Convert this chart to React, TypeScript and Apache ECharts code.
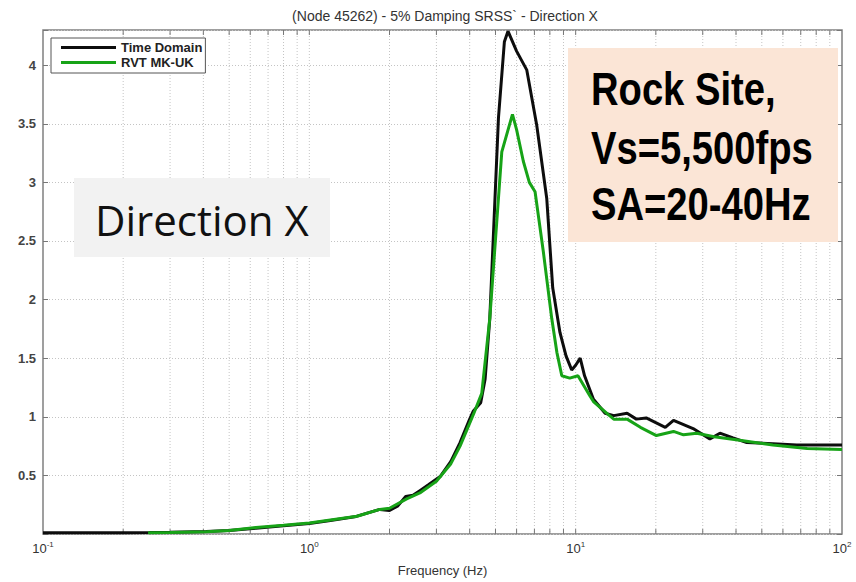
import React, { useEffect, useRef } from 'react';
import * as echarts from 'echarts';

const titleText = '(Node 45262) - 5% Damping SRSS` - Direction X';
const xAxisName = 'Frequency (Hz)';
const seriesNames = ['Time Domain', 'RVT MK-UK'];

// Time Domain (black)
const timeFreq = [0.1, 0.15, 0.2, 0.25, 0.3, 0.41, 0.5, 0.63, 0.8, 1.0, 1.2, 1.5, 1.84, 2.0, 2.15, 2.3, 2.45, 2.6, 2.8, 3.1, 3.4, 3.68, 4.0, 4.13, 4.4, 4.57, 4.76, 5.13, 5.4, 5.57, 6.0, 6.55, 7.14, 7.79, 8.2, 8.73, 9.2, 9.66, 10.0, 10.4, 10.8, 11.66, 12.9, 13.9, 15.6, 16.9, 18.4, 21.7, 23.3, 27.6, 31.9, 34.8, 39.0, 43.9, 55.0, 67.6, 100];
const timeSA = [0.01, 0.01, 0.01, 0.012, 0.015, 0.022, 0.03, 0.05, 0.07, 0.09, 0.115, 0.15, 0.21, 0.2, 0.24, 0.32, 0.33, 0.37, 0.42, 0.49, 0.62, 0.78, 0.98, 1.05, 1.12, 1.32, 1.84, 3.55, 4.2, 4.29, 4.12, 3.96, 3.49, 2.86, 2.1, 1.72, 1.52, 1.4, 1.44, 1.5, 1.35, 1.15, 1.03, 1.01, 1.03, 0.98, 0.99, 0.91, 0.97, 0.9, 0.81, 0.86, 0.82, 0.78, 0.77, 0.76, 0.76];

// RVT MK-UK (green)
const rvtFreq = [0.248, 0.3, 0.41, 0.5, 0.63, 0.8, 1.0, 1.2, 1.51, 1.84, 2.0, 2.32, 2.6, 3.0, 3.4, 3.68, 4.13, 4.44, 4.76, 5.28, 5.79, 6.0, 6.36, 6.7, 7.04, 7.56, 8.13, 8.5, 8.87, 9.5, 10.2, 11.3, 11.66, 13.4, 13.9, 15.6, 17.5, 20.1, 23.3, 25.4, 28.5, 33.1, 41.3, 55.0, 74.0, 100];
const rvtSA = [0.01, 0.012, 0.02, 0.03, 0.055, 0.075, 0.094, 0.12, 0.151, 0.21, 0.22, 0.3, 0.35, 0.45, 0.6, 0.75, 1.02, 1.2, 1.84, 3.26, 3.58, 3.45, 3.18, 3.0, 2.92, 2.41, 1.84, 1.55, 1.35, 1.33, 1.35, 1.18, 1.13, 1.01, 0.98, 0.98, 0.91, 0.84, 0.875, 0.846, 0.86, 0.83, 0.8, 0.76, 0.73, 0.72];

// log-axis grid line positions (minor + major)
const gridFreqs = [0.2, 0.3, 0.4, 0.5, 0.6, 0.7, 0.8, 0.9, 1, 2, 3, 4, 5, 6, 7, 8, 9, 10, 20, 30, 40, 50, 60, 70, 80, 90];

const yMin = 0;
const yMax = 4.3;
const yStep = 0.5;

const noteLines = ['Rock Site,', 'Vs=5,500fps', 'SA=20-40Hz'];
const directionLabel = 'Direction X';

const ARIAL = '"Liberation Sans", Arial, sans-serif';

export default function App() {
  const ref = useRef<HTMLDivElement>(null);
  useEffect(() => {
    document.body.style.margin = '0';
    const chart = echarts.init(ref.current!, null, { renderer: 'svg' });
    const option: any = {
      animation: false,
      backgroundColor: '#ffffff',
      title: {
        text: titleText,
        left: 440,
        textAlign: 'center',
        top: 4,
        textStyle: { fontFamily: ARIAL, fontSize: 14, fontWeight: 'normal', color: '#333' },
      },
      grid: { left: 43, right: 14, top: 30, bottom: 47, show: true, borderColor: '#808080', borderWidth: 1.5, backgroundColor: 'transparent' },
      legend: {
        data: seriesNames,
        orient: 'vertical',
        left: 51,
        top: 38,
        icon: 'rect',
        itemWidth: 55,
        itemHeight: 3,
        itemGap: 0,
        padding: [2, 3, 3, 10],
        borderColor: '#555',
        borderWidth: 1,
        backgroundColor: '#fff',
        textStyle: { fontFamily: ARIAL, fontWeight: 'bold', fontSize: 13, lineHeight: 15, color: '#222' },
      },
      xAxis: {
        type: 'log',
        logBase: 10,
        min: 0.1,
        max: 100,
        name: xAxisName,
        nameLocation: 'middle',
        nameGap: 30,
        nameTextStyle: { fontFamily: ARIAL, fontSize: 13, color: '#333' },
        axisLine: { show: false },
        axisTick: { show: false },
        splitLine: { show: false },
        axisLabel: {
          margin: 6,
          formatter: (v: number) => `{b|10}{s|${Math.round(Math.log10(v))}}`,
          rich: {
            b: { fontFamily: ARIAL, fontSize: 13, color: '#333', lineHeight: 16 },
            s: { fontFamily: ARIAL, fontSize: 8, color: '#333', verticalAlign: 'top', lineHeight: 10 },
          },
        },
      },
      yAxis: [
        {
          type: 'value',
          min: yMin,
          max: yMax,
          interval: yStep,
          axisLine: { show: false },
          axisTick: { show: true, inside: true, length: 5, lineStyle: { color: '#777' } },
          splitLine: { show: true, lineStyle: { color: '#c4c4c4', type: [1, 2], width: 1 } },
          axisLabel: {
            margin: 7,
            fontFamily: ARIAL,
            fontSize: 13,
            fontWeight: 'bold',
            color: '#444',
            formatter: (v: number) => (v <= 0 || v > 4.01 ? '' : String(v)),
          },
        },
        {
          type: 'value',
          position: 'right',
          min: yMin,
          max: yMax,
          interval: yStep,
          axisLine: { show: false },
          axisTick: { show: true, inside: true, length: 5, lineStyle: { color: '#777' } },
          splitLine: { show: false },
          axisLabel: { show: false },
        },
      ],
      series: [
        {
          type: 'custom',
          name: 'grid',
          silent: true,
          z: 1,
          data: gridFreqs.map((f) => [f, 0]),
          renderItem: (params: any, api: any) => {
            const p = api.coord([api.value(0), 0]);
            const cs = params.coordSys;
            const top = cs.y;
            const bottom = cs.y + cs.height;
            return {
              type: 'group',
              children: [
                { type: 'line', shape: { x1: p[0], y1: top, x2: p[0], y2: bottom }, style: { stroke: '#c4c4c4', lineWidth: 1, lineDash: [1, 2] } },
                { type: 'line', shape: { x1: p[0], y1: top, x2: p[0], y2: top + 5 }, style: { stroke: '#777', lineWidth: 1 } },
                { type: 'line', shape: { x1: p[0], y1: bottom, x2: p[0], y2: bottom - 5 }, style: { stroke: '#777', lineWidth: 1 } },
              ],
            };
          },
        },
        {
          type: 'line',
          name: seriesNames[0],
          data: timeFreq.map((f, i) => [f, timeSA[i]]),
          symbol: 'none',
          showSymbol: false,
          clip: true,
          z: 3,
          lineStyle: { color: '#0d0d0d', width: 3 },
          itemStyle: { color: '#0d0d0d' },
        },
        {
          type: 'line',
          name: seriesNames[1],
          data: rvtFreq.map((f, i) => [f, rvtSA[i]]),
          symbol: 'none',
          showSymbol: false,
          clip: true,
          z: 4,
          lineStyle: { color: '#17a317', width: 3 },
          itemStyle: { color: '#17a317' },
        },
      ],
      graphic: [
        { type: 'rect', z: 100, shape: { x: 74, y: 178, width: 256, height: 79 }, style: { fill: '#f2f2f2' } },
        {
          type: 'text', z: 101, x: 95, y: 219,
          style: { text: directionLabel, font: '42px "Open Sans", Calibri, sans-serif', fill: '#111', verticalAlign: 'middle', align: 'left' },
        },
        { type: 'rect', z: 100, shape: { x: 568, y: 48, width: 270, height: 194 }, style: { fill: '#fbe5d6' } },
        ...noteLines.map((t, i) => ({
          type: 'text', z: 101, x: 591, y: [89, 148, 204][i], scaleX: 0.83,
          style: { text: t, font: 'bold 46px "Liberation Sans", Arial, sans-serif', fill: '#000', verticalAlign: 'middle', align: 'left' },
        })),
      ],
    };
    chart.setOption(option);
    return () => chart.dispose();
  }, []);
  return <div ref={ref} style={{ width: 856, height: 582 }} />;
}
